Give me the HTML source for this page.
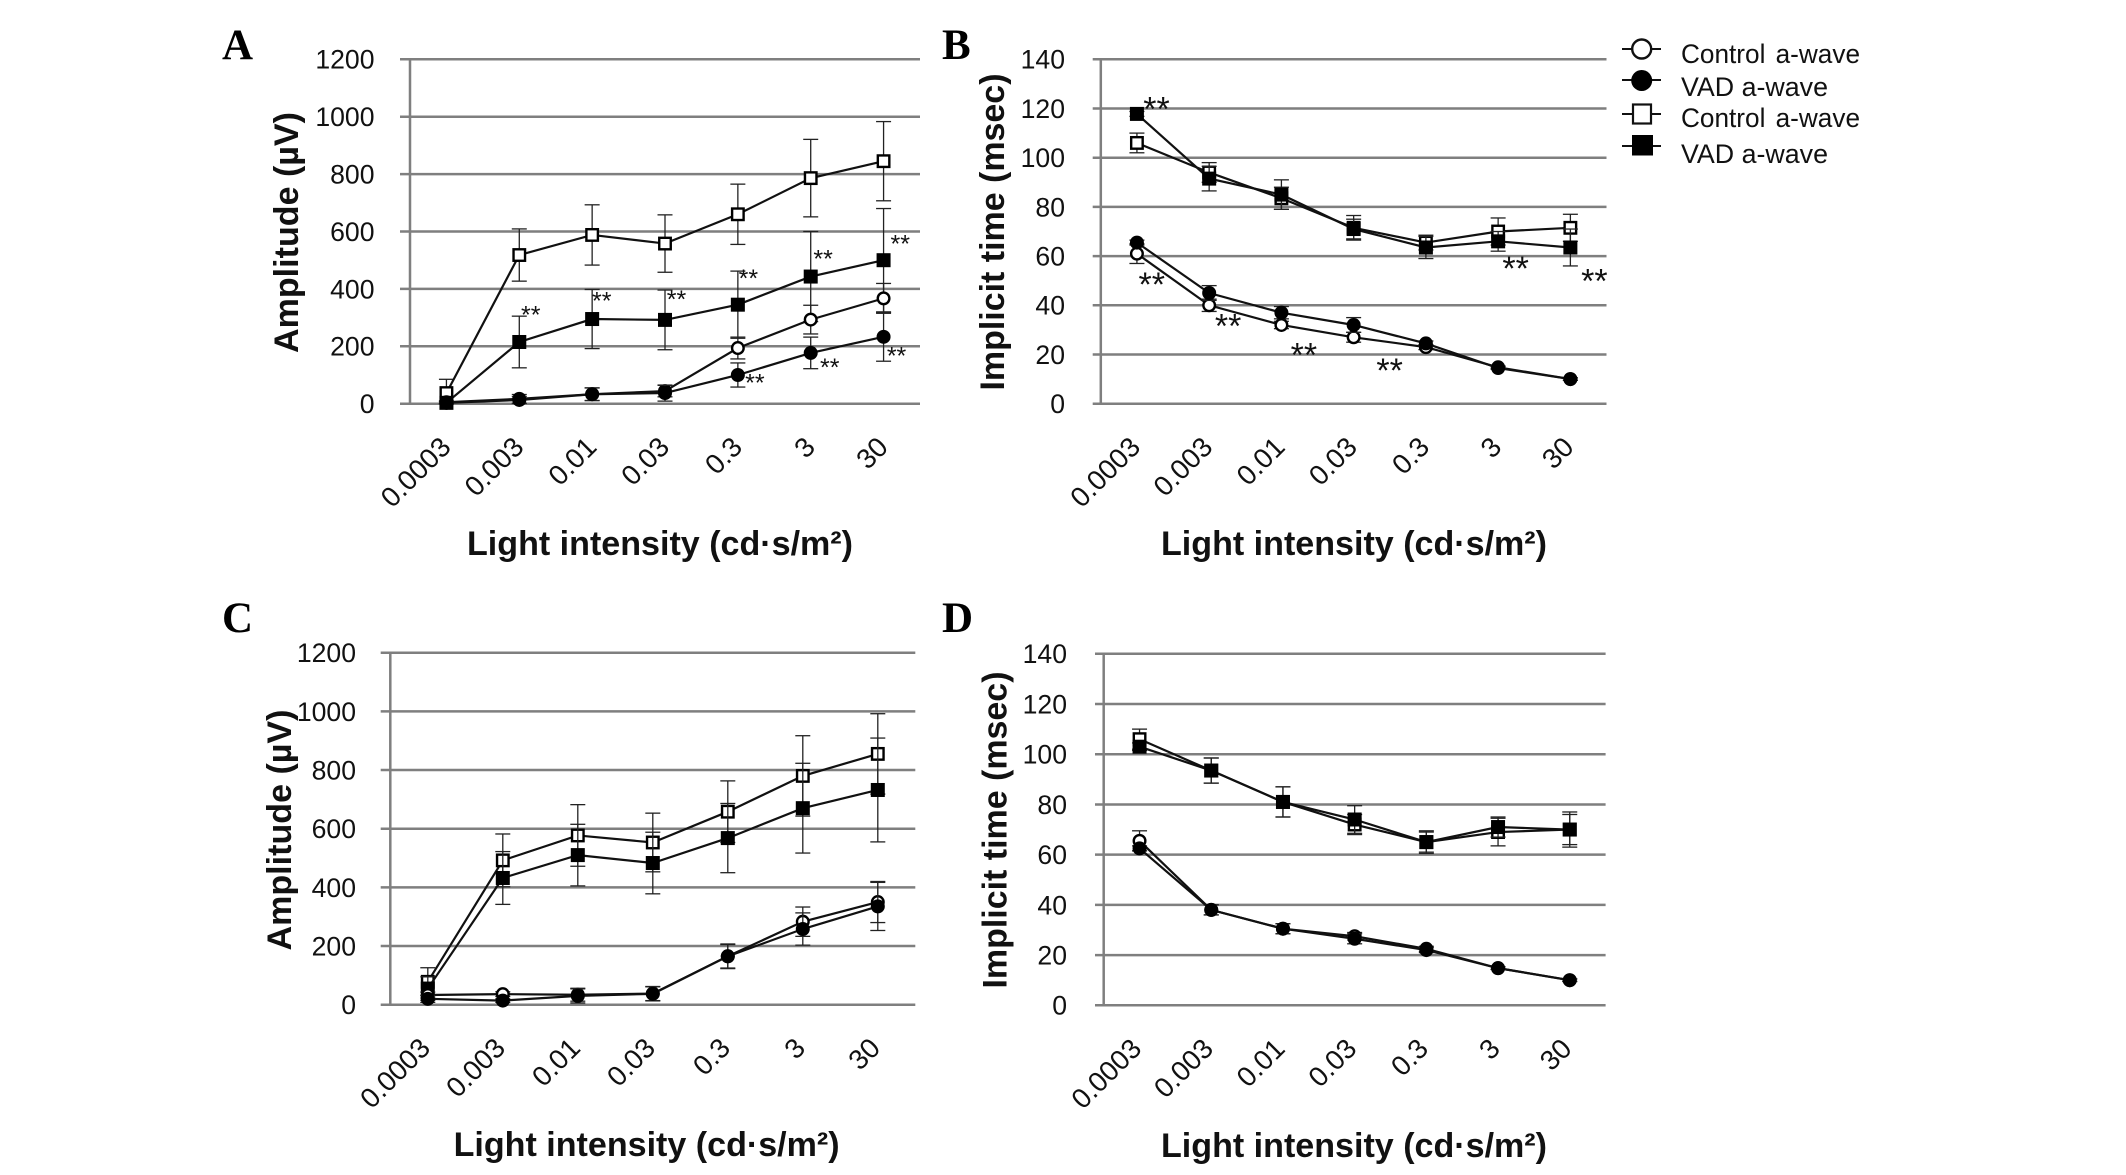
<!DOCTYPE html>
<html lang="en">
<head>
<meta charset="utf-8">
<title>Light intensity response charts</title>
<style>
html,body{margin:0;padding:0;background:#fff;}
svg{display:block;font-family:"Liberation Sans",sans-serif;fill:#111;}
</style>
</head>
<body>
<svg id="figure" xmlns="http://www.w3.org/2000/svg" width="2126" height="1175" viewBox="0 0 2126 1175">
  <rect x="0" y="0" width="2126" height="1175" fill="#fff"/>
  <g font-size="26.5" fill="#111">
    <g>
      <line x1="1622" x2="1661" y1="49" y2="49" stroke="#111" stroke-width="2"/>
      <circle cx="1641.7" cy="49" r="9.5" fill="#fff" stroke="#111" stroke-width="2.4"/>
      <text x="1681" y="63" word-spacing="3" textLength="179" lengthAdjust="spacingAndGlyphs">Control a-wave</text>
    </g>
    <g>
      <line x1="1622" x2="1661" y1="80" y2="80" stroke="#111" stroke-width="2"/>
      <circle cx="1641.7" cy="80.5" r="10.5" fill="#000"/>
      <text x="1681" y="96" textLength="147" lengthAdjust="spacingAndGlyphs">VAD a-wave</text>
    </g>
    <g>
      <line x1="1622" x2="1661" y1="114" y2="114" stroke="#111" stroke-width="2"/>
      <rect x="1633" y="104.5" width="18" height="19" fill="#fff" stroke="#111" stroke-width="2.2"/>
      <text x="1681" y="127" word-spacing="3" textLength="179" lengthAdjust="spacingAndGlyphs">Control a-wave</text>
    </g>
    <g>
      <line x1="1622" x2="1661" y1="146" y2="146" stroke="#111" stroke-width="2"/>
      <rect x="1632" y="135" width="21" height="20.5" fill="#000"/>
      <text x="1681" y="163" textLength="147" lengthAdjust="spacingAndGlyphs">VAD a-wave</text>
    </g>
  </g>
</svg>
<script>
// Shared categories and tick labels
var categories = ["0.0003", "0.003", "0.01", "0.03", "0.3", "3", "30"];
var amplitudeTicks = [0, 200, 400, 600, 800, 1000, 1200];
var timeTicks = [0, 20, 40, 60, 80, 100, 120, 140];

// Panel A values
var aCtrlSq = [37, 518, 588, 558, 660, 786, 845];
var aCtrlSqErr = [48, 91, 105, 100, 105, 135, 138];
var aVadSq = [3, 215, 295, 292, 345, 443, 500];
var aVadSqErr = [5, 90, 103, 104, 117, 157, 180];
var aCtrlCirc = [5, 17, 33, 44, 194, 293, 367];
var aCtrlCircErr = [5, 15, 22, 20, 38, 50, 52];
var aVadCirc = [3, 13, 33, 37, 100, 177, 233];
var aVadCircErr = [3, 12, 22, 28, 42, 55, 85];

// Panel B values
var bCtrlSq = [106, 94, 83.5, 71.5, 65.5, 70, 71.5];
var bCtrlSqErr = [4, 4, 4.5, 5, 3, 5.5, 5.5];
var bVadSq = [117.8, 91.5, 85, 71, 63.5, 66, 63.5];
var bVadSqErr = [1, 5, 6, 4, 4.5, 4, 7.5];
var bCtrlCirc = [61, 40, 32, 27, 23, 14.8, 10];
var bCtrlCircErr = [4, 2.5, 1.5, 2, 1, 0.5, 0.5];
var bVadCirc = [65.5, 45, 37, 32, 24.5, 14.5, 10];
var bVadCircErr = [1, 3, 2.5, 3, 1, 0.5, 0.5];

// Panel C values
var cCtrlSq = [78, 492, 577, 553, 658, 780, 855];
var cCtrlSqErr = [48, 90, 105, 100, 105, 137, 137];
var cVadSq = [55, 432, 510, 483, 568, 670, 732];
var cVadSqErr = [40, 90, 105, 105, 118, 153, 177];
var cCtrlCirc = [33, 36, 34, 38, 165, 283, 350];
var cCtrlCircErr = [10, 8, 22, 24, 42, 50, 70];
var cVadCirc = [20, 14, 30, 37, 165, 258, 335];
var cVadCircErr = [12, 6, 24, 24, 40, 55, 82];

// Panel D values
var dCtrlSq = [106, 93.5, 81, 72, 65, 69, 70];
var dCtrlSqErr = [4, 5, 6, 4, 4, 5.5, 6];
var dVadSq = [103, 93.5, 81, 74, 65, 71, 70];
var dVadSqErr = [1.5, 5, 6, 5.5, 4.5, 4, 7];
var dCtrlCirc = [65.5, 38, 30.5, 27.5, 22.5, 14.8, 10];
var dCtrlCircErr = [4, 2, 2, 1.5, 1, 0.5, 0.5];
var dVadCirc = [62.5, 38, 30.5, 26.5, 22, 14.8, 10];
var dVadCircErr = [1, 2, 2, 2, 1, 0.5, 0.5];

var svg = document.getElementById('figure');
var NS = 'http://www.w3.org/2000/svg';

function add(parent, tag, attrs, name, text) {
  var node = document.createElementNS(NS, tag);
  for (var k in attrs) { node.setAttribute(k, attrs[k]); }
  
  
  if (text !== undefined) { node.textContent = text; }
  parent.appendChild(node);
  return node;
}

function drawSeries(g, seriesName, values, errs, kind, filled, x, y, panelId) {
  var sg = add(g, 'g', {}, panelId + '-series-' + seriesName);
  values.forEach(function (v, i) {
    var px = x(i);
    var top = y(v + errs[i]);
    var bot = y(Math.max(v - errs[i], 0));
    add(sg, 'line', {x1: px, x2: px, y1: top, y2: bot, stroke: '#222', 'stroke-width': 1.3}, 'error-bar');
    add(sg, 'line', {x1: px - 7.5, x2: px + 7.5, y1: top, y2: top, stroke: '#222', 'stroke-width': 1.3}, 'error-cap-top');
    add(sg, 'line', {x1: px - 7.5, x2: px + 7.5, y1: bot, y2: bot, stroke: '#222', 'stroke-width': 1.3}, 'error-cap-bottom');
  });
  var pts = values.map(function (v, i) { return x(i) + ',' + y(v); }).join(' ');
  add(sg, 'polyline', {points: pts, fill: 'none', stroke: '#111', 'stroke-width': 2.2}, 'series-line');
  values.forEach(function (v, i) {
    var attrs;
    if (kind === 'circle') {
      attrs = {cx: x(i), cy: y(v), r: filled ? 7 : 5.8, fill: filled ? '#000' : '#fff', stroke: '#000', 'stroke-width': filled ? 0 : 2.4};
    } else {
      var s = filled ? 14 : 11.5;
      attrs = {x: x(i) - s / 2, y: y(v) - s / 2, width: s, height: s, fill: filled ? '#000' : '#fff', stroke: '#000', 'stroke-width': filled ? 0 : 2.4};
    }
    add(sg, kind === 'circle' ? 'circle' : 'rect', attrs, 'data-point');
  });
}

function drawPanel(p) {
  var g = add(svg, 'g', {}, 'panel-' + p.id);
  var band = (p.right - p.axis) / categories.length;
  var x = function (i) { return p.axis + (i + 0.5) * band; };
  var max = p.ticks[p.ticks.length - 1];
  var y = function (v) { return p.y0 + (p.yTop - p.y0) * v / max; };

  add(g, 'text', {x: p.letterX, y: p.letterY, 'font-family': '"Liberation Serif",serif', 'font-weight': 'bold', 'font-size': 43, fill: '#000'}, 'panel-label', p.id);

  p.ticks.forEach(function (t) {
    add(g, 'line', {x1: p.gridLeft, x2: p.right, y1: y(t), y2: y(t), stroke: '#7f7f7f', 'stroke-width': 2.5}, 'gridline');
    add(g, 'text', {x: p.tickRight, y: y(t) + 9.4, 'text-anchor': 'end', 'font-size': 26.6}, 'y-tick-label', String(t));
  });
  add(g, 'line', {x1: p.axis, x2: p.axis, y1: p.yTop, y2: p.y0, stroke: '#7f7f7f', 'stroke-width': 2.5}, 'y-axis-line');

  categories.forEach(function (c, i) {
    var lx = x(i) + p.labelDx;
    var ly = p.y0 + 45;
    add(g, 'text', {x: lx, y: ly, 'text-anchor': 'end', 'font-size': 27.8, transform: 'rotate(-45 ' + lx + ' ' + ly + ')'}, 'x-tick-label', c);
  });

  add(g, 'text', {x: p.titleX, y: p.titleY, 'font-weight': 'bold', 'font-size': 34, textLength: 386, lengthAdjust: 'spacingAndGlyphs'}, 'x-axis-title', 'Light intensity (cd\u00B7s/m\u00B2)');
  add(g, 'text', {x: 0, y: 0, 'text-anchor': 'middle', 'font-weight': 'bold', 'font-size': 34, textLength: p.yTitleLen, lengthAdjust: 'spacingAndGlyphs', transform: 'translate(' + p.yTitleX + ' ' + p.yTitleY + ') rotate(-90)'}, 'y-axis-title', p.yTitle);

  drawSeries(g, 'control-square', p.ctrlSq, p.ctrlSqErr, 'square', false, x, y, p.id);
  drawSeries(g, 'vad-square', p.vadSq, p.vadSqErr, 'square', true, x, y, p.id);
  drawSeries(g, 'control-circle', p.ctrlCirc, p.ctrlCircErr, 'circle', false, x, y, p.id);
  drawSeries(g, 'vad-circle', p.vadCirc, p.vadCircErr, 'circle', true, x, y, p.id);

  (p.stars || []).forEach(function (s) {
    var sx = x(s.i) + s.dx;
    var sy = y(p[s.on][s.i]) + s.dy + p.starSize * 0.5;
    add(g, 'text', {x: sx, y: sy, 'text-anchor': 'middle', 'font-size': p.starSize, fill: '#111'}, 'significance-marker', '**');
  });
}

drawPanel({
  id: 'A', ticks: amplitudeTicks, yTop: 59.3, y0: 403.7, axis: 410, gridLeft: 400, right: 920, tickRight: 374.5, labelDx: 6,
  letterX: 222, letterY: 59, titleX: 467, titleY: 555, yTitle: 'Amplitude (\u00B5V)', yTitleLen: 241, yTitleX: 298, yTitleY: 232.5,
  ctrlSq: aCtrlSq, ctrlSqErr: aCtrlSqErr, vadSq: aVadSq, vadSqErr: aVadSqErr,
  ctrlCirc: aCtrlCirc, ctrlCircErr: aCtrlCircErr, vadCirc: aVadCirc, vadCircErr: aVadCircErr,
  starSize: 25,
  stars: [
    {on: 'vadSq', i: 1, dx: 11.5, dy: -31}, {on: 'vadSq', i: 2, dx: 9.6, dy: -22},
    {on: 'vadSq', i: 3, dx: 11.5, dy: -24.5}, {on: 'vadSq', i: 4, dx: 10.5, dy: -30},
    {on: 'vadSq', i: 5, dx: 12.4, dy: -21.4}, {on: 'vadSq', i: 6, dx: 16.7, dy: -20.3},
    {on: 'vadCirc', i: 4, dx: 17, dy: 3.8}, {on: 'vadCirc', i: 5, dx: 19, dy: 10.5},
    {on: 'vadCirc', i: 6, dx: 13, dy: 15}
  ]
});

drawPanel({
  id: 'B', ticks: timeTicks, yTop: 59.3, y0: 403.7, axis: 1100.8, gridLeft: 1092.7, right: 1606.5, tickRight: 1065, labelDx: 5,
  letterX: 942, letterY: 59, titleX: 1161, titleY: 555, yTitle: 'Implicit time (msec)', yTitleLen: 317, yTitleX: 1004, yTitleY: 232,
  ctrlSq: bCtrlSq, ctrlSqErr: bCtrlSqErr, vadSq: bVadSq, vadSqErr: bVadSqErr,
  ctrlCirc: bCtrlCirc, ctrlCircErr: bCtrlCircErr, vadCirc: bVadCirc, vadCircErr: bVadCircErr,
  starSize: 34,
  stars: [
    {on: 'vadSq', i: 0, dx: 19.6, dy: -10.5}, {on: 'vadSq', i: 5, dx: 17.5, dy: 21.8},
    {on: 'vadSq', i: 6, dx: 24, dy: 28.2}, {on: 'ctrlCirc', i: 0, dx: 14.8, dy: 25.6},
    {on: 'ctrlCirc', i: 1, dx: 19, dy: 15.4}, {on: 'ctrlCirc', i: 2, dx: 22.5, dy: 24.5},
    {on: 'ctrlCirc', i: 3, dx: 36, dy: 27.5}
  ]
});

drawPanel({
  id: 'C', ticks: amplitudeTicks, yTop: 652.7, y0: 1004.7, axis: 390.3, gridLeft: 380.7, right: 915.3, tickRight: 356, labelDx: 4,
  letterX: 222, letterY: 632, titleX: 453.6, titleY: 1156, yTitle: 'Amplitude (\u00B5V)', yTitleLen: 241, yTitleX: 291, yTitleY: 830,
  ctrlSq: cCtrlSq, ctrlSqErr: cCtrlSqErr, vadSq: cVadSq, vadSqErr: cVadSqErr,
  ctrlCirc: cCtrlCirc, ctrlCircErr: cCtrlCircErr, vadCirc: cVadCirc, vadCircErr: cVadCircErr
});

drawPanel({
  id: 'D', ticks: timeTicks, yTop: 653.8, y0: 1005.3, axis: 1103.7, gridLeft: 1095, right: 1605.6, tickRight: 1067, labelDx: 3.5,
  letterX: 942, letterY: 632, titleX: 1161, titleY: 1157, yTitle: 'Implicit time (msec)', yTitleLen: 317, yTitleX: 1006.5, yTitleY: 830,
  ctrlSq: dCtrlSq, ctrlSqErr: dCtrlSqErr, vadSq: dVadSq, vadSqErr: dVadSqErr,
  ctrlCirc: dCtrlCirc, ctrlCircErr: dCtrlCircErr, vadCirc: dVadCirc, vadCircErr: dVadCircErr
});
</script>
</body>
</html>
